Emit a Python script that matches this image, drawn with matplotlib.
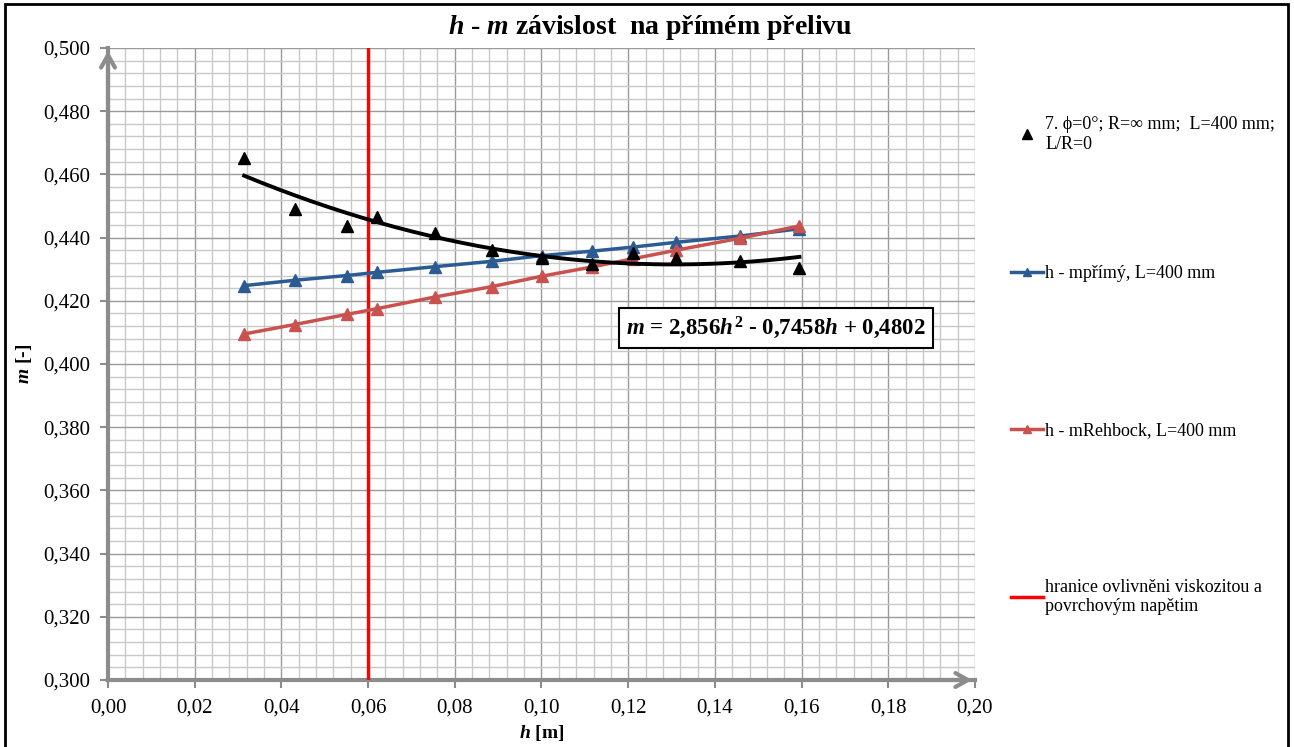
import numpy as np
import matplotlib
matplotlib.use("Agg")
import matplotlib.pyplot as plt
from matplotlib.lines import Line2D
from matplotlib.patches import Rectangle
from matplotlib.ticker import MultipleLocator, FuncFormatter

plt.rcParams['font.family'] = ['Liberation Serif', 'DejaVu Serif']
plt.rcParams['mathtext.fontset'] = 'custom'
plt.rcParams['mathtext.it'] = 'Liberation Serif:bold:italic'
plt.rcParams['mathtext.rm'] = 'Liberation Serif:bold'
plt.rcParams['mathtext.bf'] = 'Liberation Serif:bold'

# measured values
h = [0.0314, 0.0431, 0.0551, 0.0620, 0.0754, 0.0886, 0.1001, 0.1116, 0.1211, 0.1310, 0.1458, 0.1595]
m_meas = [0.4652, 0.4490, 0.4438, 0.4465, 0.4413, 0.4360, 0.4335, 0.4315, 0.4352, 0.4335, 0.4325, 0.4305]
m_primy = [0.4248, 0.4265, 0.4280, 0.4290, 0.4308, 0.4325, 0.4343, 0.4357, 0.4370, 0.4385, 0.4405, 0.4428]
m_rehbock = [0.4095, 0.4125, 0.4157, 0.4175, 0.4212, 0.4245, 0.4278, 0.4307, 0.4333, 0.4360, 0.4398, 0.4437]
fit_coef = [2.856, -0.7458, 0.4802]
h_limit = 0.06

lab_meas = "7. \u03d5=0°; R=\u221e mm;  L=400 mm;\nL/R=0"
lab_primy = "h - mpřímý, L=400 mm"
lab_rehbock = "h - mRehbock, L=400 mm"
lab_limit = "hranice ovlivněni viskozitou a\npovrchovým napětim"

W, H = 1294, 747
fig = plt.figure(figsize=(W / 100, H / 100), dpi=100)
ax = fig.add_axes([108 / W, 1 - 680 / H, (975 - 108) / W, (680 - 48) / H])

blue = '#2b5b93'
red = '#c9524f'
gray = '#8c8c8c'

ax.plot(h, m_primy, color=blue, lw=2.5, marker='^', ms=8, zorder=4)
ax.plot(h, m_rehbock, color=red, lw=2.5, marker='^', ms=8, zorder=4)
ax.plot(h, m_meas, ls='none', color='black', marker='^', ms=9, zorder=5)
hs = np.linspace(h[0], h[-1], 200)
ax.plot(hs, np.polyval(fit_coef, hs), color='black', lw=2.8, zorder=5)
ax.axvline(h_limit, color='#ff0000', lw=2.5, zorder=3)

ax.set_xlim(0, 0.20)
ax.set_ylim(0.300, 0.500)
ax.xaxis.set_major_locator(MultipleLocator(0.02))
ax.xaxis.set_minor_locator(MultipleLocator(0.004))
ax.yaxis.set_major_locator(MultipleLocator(0.02))
ax.yaxis.set_minor_locator(MultipleLocator(0.004))
ax.xaxis.set_major_formatter(FuncFormatter(lambda v, p: f"{v:.2f}".replace('.', ',')))
ax.yaxis.set_major_formatter(FuncFormatter(lambda v, p: f"{v:.3f}".replace('.', ',')))
ax.grid(which='major', color='#9a9a9a', lw=1.0)
ax.grid(which='minor', color='#c8c8c8', lw=1.0)
ax.set_axisbelow(True)
ax.tick_params(which='major', length=6, width=1.5, color=gray, labelsize=15, pad=7)
ax.tick_params(which='minor', length=0)
for s in ['top', 'right']:
    ax.spines[s].set_visible(False)
for s in ['left', 'bottom']:
    ax.spines[s].set_color(gray)
    ax.spines[s].set_linewidth(3)

ax.annotate('', xy=(0, 0.5), xytext=(0, 0.47),
            arrowprops=dict(arrowstyle='->,head_length=0.9,head_width=0.5', color=gray, lw=3),
            annotation_clip=False)
ax.annotate('', xy=(0.2, 0.3), xytext=(0.18, 0.3),
            arrowprops=dict(arrowstyle='->,head_length=0.9,head_width=0.5', color=gray, lw=3),
            annotation_clip=False)

fig.text(650 / W, 1 - 28 / H, r"$h$ - $m$ závislost  na přímém přelivu", fontsize=20,
         fontweight='bold', ha='center', va='center')
ax.set_xlabel(r"$h$ [m]", fontsize=14, fontweight='bold', labelpad=4)
ax.set_ylabel(r"$m$ [-]", fontsize=14, fontweight='bold', labelpad=6)

ax.text(0.1195, 0.4115, r"$m$ = 2,856$h^{2}$ - 0,7458$h$ + 0,4802", fontsize=16.5,
        fontweight='bold', va='center', ha='left', zorder=6,
        bbox=dict(boxstyle='square,pad=0.3', fc='white', ec='black', lw=1.5))

h_meas = Line2D([], [], ls='none', marker='^', color='black', ms=7)
h_primy = Line2D([], [], color=blue, lw=2.5, marker='^', ms=6)
h_rehbock = Line2D([], [], color=red, lw=2.5, marker='^', ms=6)
h_limit_line = Line2D([], [], color='#ff0000', lw=2.5)

leg_kw = dict(loc='upper left', frameon=False, fontsize=13, handlelength=1.75,
              handletextpad=0.15, borderpad=0, borderaxespad=0)
fig.legend([h_meas], [lab_meas], bbox_to_anchor=(1011 / W, 1 - 116 / H), **leg_kw)
fig.legend([h_primy, h_rehbock, h_limit_line], [lab_primy, lab_rehbock, lab_limit],
           bbox_to_anchor=(1011 / W, 1 - 265 / H), labelspacing=7.75, **leg_kw)

fig.add_artist(Rectangle((5 / W, -0.01), (1288 - 5) / W, (H - 4) / H + 0.01,
                         transform=fig.transFigure, fill=False, ec='black', lw=2))

fig.savefig('out.png', dpi=100)
